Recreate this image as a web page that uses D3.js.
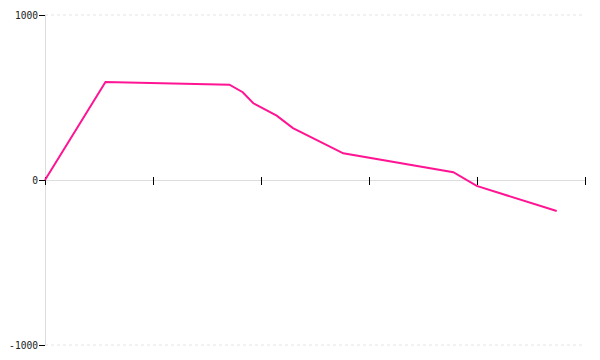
<!DOCTYPE html>
<html>
<head>
<meta charset="utf-8">
<script src="https://cdn.jsdelivr.net/npm/d3@7"></script>
<style>
  body { margin: 0; background: #fff; }
  svg { display: block; font-family: "DejaVu Sans Mono", monospace; }
</style>
</head>
<body>
<div id="chart"></div>
<script>
// values
var xs = [0, 0.56, 1.708, 1.831, 1.929, 2.145, 2.296, 2.762, 3.781, 3.997, 4.738];
var ys = [0, 594, 578, 532, 465, 390, 315, 162, 47, -36, -188];
var yTicks = [-1000, 0, 1000];
var xTicks = [0, 1, 2, 3, 4, 5];

var width = 600, height = 360;
var margin = {top: 15, right: 15, bottom: 15, left: 45};

var svg = d3.select('#chart').append('svg')
    .attr('width', width)
    .attr('height', height);

var x = d3.scaleLinear()
    .domain([0, 5])
    .range([margin.left, width - margin.right]);

var y = d3.scaleLinear()
    .domain([-1000, 1000])
    .range([height - margin.bottom, margin.top]);

// dotted grid lines at the top and bottom
svg.selectAll('line.grid')
  .data([-1000, 1000])
  .enter()
  .append('line')
    .attr('class', 'grid')
    .attr('x1', x(0))
    .attr('x2', x(5))
    .attr('y1', function(d) { return y(d); })
    .attr('y2', function(d) { return y(d); })
    .attr('stroke', '#e4e4e4')
    .attr('stroke-dasharray', '3,3');

// y axis
var yAxis = svg.append('g')
    .attr('transform', 'translate(' + x(0) + ',0)')
    .call(d3.axisLeft(y).tickValues(yTicks).tickSize(6).tickPadding(1)
      .tickFormat(function(d) { return String(d); }));
yAxis.select('.domain').attr('stroke', '#ddd').attr('d', 'M0.5,' + y(1000) + 'V' + y(-1000));
yAxis.selectAll('text').attr('font-size', 9.6).attr('fill', '#222')
    .attr('font-family', '"DejaVu Sans Mono", monospace');

// x axis along zero
var xAxis = svg.append('g')
    .attr('transform', 'translate(0,' + y(0) + ')')
    .call(d3.axisBottom(x).tickValues(xTicks).tickSize(5).tickFormat(''));
xAxis.select('.domain').attr('stroke', '#ddd').attr('d', 'M' + x(0) + ',0.5H' + x(5));
xAxis.selectAll('.tick line').attr('y1', -3);

// the line
var line = d3.line()
    .x(function(d, i) { return x(xs[i]); })
    .y(function(d) { return y(d); });

svg.append('path')
    .datum(ys)
    .attr('d', line)
    .attr('fill', 'none')
    .attr('stroke', '#ff1493')
    .attr('stroke-width', 2);
</script>
</body>
</html>
